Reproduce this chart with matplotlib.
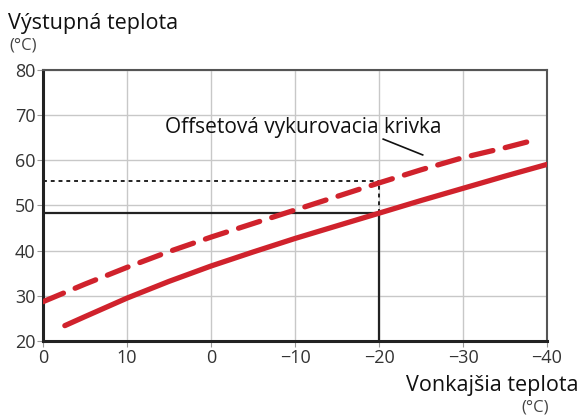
import numpy as np
import matplotlib.pyplot as plt

plt.rcParams["font.family"] = ["Open Sans", "DejaVu Sans"]

# outdoor temperature (x) and supply temperature (y)
curve_x = [17.4, 15, 10, 5, 0, -5, -10, -15, -20, -25, -30, -35, -40]
curve_y = [23.4, 25.4, 29.5, 33.2, 36.6, 39.7, 42.7, 45.5, 48.3, 51.1, 53.8, 56.5, 59.1]
offset_x = [20, 15, 10, 5, 0, -5, -10, -15, -20, -25, -30, -35, -37.7]
offset_y = [28.7, 32.6, 36.3, 39.8, 43.0, 46.0, 49.0, 52.0, 55.0, 57.9, 60.6, 62.8, 64.1]

x_ticks = [20, 10, 0, -10, -20, -30, -40]
x_tick_labels = ["0", "10", "0", "\u221210", "\u221220", "\u221230", "\u221240"]
y_ticks = [20, 30, 40, 50, 60, 70, 80]

design_outdoor = -20
design_supply = 48.3
offset_supply = 55.4

RED = "#d0222c"

fig = plt.figure(figsize=(5.81, 4.16), dpi=100)
ax = fig.add_axes([43 / 581, 75 / 416, 504 / 581, 271 / 416])

ax.set_xlim(20, -40)
ax.set_ylim(20, 80)
ax.set_xticks(x_ticks)
ax.set_xticklabels(x_tick_labels)
ax.set_yticks(y_ticks)
ax.grid(True, color="#c8c8c8", linewidth=1.0)
ax.set_axisbelow(True)
ax.tick_params(colors="#999999", labelcolor="#333333", labelsize=13, length=4,
               width=0.8, pad=1.5)

for side in ("left", "bottom"):
    ax.spines[side].set_linewidth(2.2)
    ax.spines[side].set_color("#222222")
for side in ("top", "right"):
    ax.spines[side].set_linewidth(1.5)
    ax.spines[side].set_color("#555555")

# design point guides
ax.plot([20, design_outdoor], [design_supply, design_supply], color="#222222", lw=1.6, zorder=3)
ax.plot([design_outdoor, design_outdoor], [20, design_supply], color="#222222", lw=1.6, zorder=3)
ax.plot([20, design_outdoor], [offset_supply, offset_supply], color="#222222", lw=1.4,
        ls=(0, (2, 2)), zorder=3)
ax.plot([design_outdoor, design_outdoor], [design_supply, offset_supply], color="#222222",
        lw=1.4, ls=(0, (2, 2)), zorder=3)

# heating curves
ax.plot(curve_x, curve_y, color=RED, lw=3.8, solid_capstyle="round",
        solid_joinstyle="round", zorder=4)
ax.plot(offset_x, offset_y, color=RED, lw=3.8, ls=(0, (4.2, 2.4)), dash_capstyle="round",
        zorder=4)

ax.text(-11.0, 67.3, "Offsetová vykurovacia krivka", fontsize=15, ha="center",
        va="center", color="#111111")
ax.plot([-20.5, -25.2], [64.7, 61.2], color="#111111", lw=1.2, zorder=5)

fig.text(8 / 581, 1 - 23 / 416, "Výstupná teplota", fontsize=15.5, ha="left", va="center",
         color="#111111")
fig.text(9 / 581, 1 - 46 / 416, "(°C)", fontsize=12, ha="left", va="center",
         color="#444444")
fig.text(578 / 581, 1 - 385 / 416, "Vonkajšia teplota", fontsize=15.5, ha="right",
         va="center", color="#111111")
fig.text(549 / 581, 1 - 407 / 416, "(°C)", fontsize=12, ha="right", va="center",
         color="#444444")

fig.savefig("out.png", dpi=100)
